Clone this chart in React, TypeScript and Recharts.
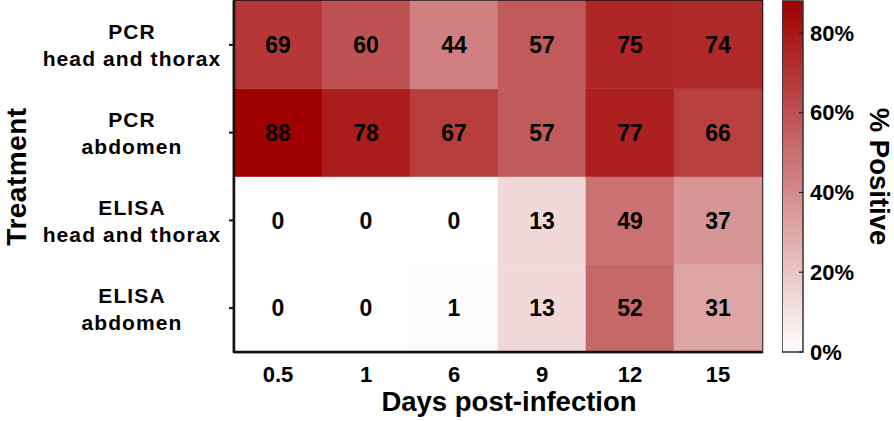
import React from "react";
import {
  BarChart,
  Bar,
  XAxis,
  YAxis,
  Cell,
  LabelList,
  Label,
  ReferenceArea,
} from "recharts";

/* ---------- data ---------- */
const days = ["0.5", "1", "6", "9", "12", "15"];
// rows from bottom to top
const rowKeys = ["elisaAb", "elisaHT", "pcrAb", "pcrHT"];
const rowLabels = [
  ["ELISA", "abdomen"],
  ["ELISA", "head and thorax"],
  ["PCR", "abdomen"],
  ["PCR", "head and thorax"],
];
const pcrHT = [69, 60, 44, 57, 75, 74];
const pcrAb = [88, 78, 67, 57, 77, 66];
const elisaHT = [0, 0, 0, 13, 49, 37];
const elisaAb = [0, 0, 1, 13, 52, 31];
const scaleMax = 88;
const scaleTicks = [0, 20, 40, 60, 80];

const chartData = days.map((d, i) => ({
  day: d,
  pcrHT: pcrHT[i],
  pcrAb: pcrAb[i],
  elisaHT: elisaHT[i],
  elisaAb: elisaAb[i],
}));

const FONT = "'Liberation Sans', Arial, sans-serif";
const HI = [160, 0, 0];

function colorFor(v: number): string {
  const t = Math.max(0, Math.min(1, v / scaleMax));
  const c = [0, 1, 2].map((k) => Math.round(255 + (HI[k] - 255) * t));
  return `rgb(${c[0]},${c[1]},${c[2]})`;
}

/* ---------- ticks ---------- */
const RowTick = (props: any) => {
  const { x, y, payload } = props;
  const idx = Math.floor(payload.value);
  const lines = rowLabels[idx] || ["", ""];
  return (
    <text
      x={x - 95}
      y={y}
      textAnchor="middle"
      fontFamily={FONT}
      fontWeight="bold"
      fontSize={21}
      letterSpacing={1.1}
      fill="#000"
    >
      <tspan x={x - 95} dy={-13} dominantBaseline="central">
        {lines[0]}
      </tspan>
      <tspan x={x - 95} dy={27} dominantBaseline="central">
        {lines[1]}
      </tspan>
    </text>
  );
};

export default function App() {
  React.useEffect(() => {
    document.body.style.margin = "0";
  }, []);

  return (
    <div
      style={{
        position: "absolute",
        left: 0,
        top: 0,
        width: 894,
        height: 421,
        background: "#fff",
        fontFamily: FONT,
      }}
    >
      {/* heatmap */}
      <div style={{ position: "absolute", left: 0, top: 0 }}>
        <BarChart
          width={780}
          height={421}
          data={chartData}
          margin={{ top: 1, right: 18, bottom: 8, left: 0 }}
          barCategoryGap={0}
          barGap={0}
        >
          <XAxis
            dataKey="day"
            height={61}
            axisLine={{ stroke: "#111", strokeWidth: 2.5 }}
            tickLine={false}
            tickMargin={8}
            tick={{ fill: "#000", fontSize: 22, fontWeight: "bold", fontFamily: FONT }}
          >
            <Label
              value="Days post-infection"
              position="insideBottom"
              offset={2}
              dx={11}
              style={{ fill: "#000", fontSize: 27.5, fontWeight: "bold", fontFamily: FONT }}
            />
          </XAxis>
          <YAxis
            type="number"
            domain={[0, 4]}
            ticks={[0.5, 1.5, 2.5, 3.5]}
            width={234}
            axisLine={{ stroke: "#111", strokeWidth: 2.5 }}
            tickLine={{ stroke: "#111", strokeWidth: 2 }}
            tickSize={5}
            tick={<RowTick />}
          >
            <Label
              value="Treatment"
              angle={-90}
              position="insideLeft"
              offset={16}
              style={{
                fill: "#000",
                fontSize: 28,
                letterSpacing: 0.5,
                fontWeight: "bold",
                fontFamily: FONT,
                textAnchor: "middle",
              }}
            />
          </YAxis>
          {rowKeys.map((k) => (
            <Bar key={k} dataKey={() => 1} stackId="a" isAnimationActive={false}>
              {chartData.map((d: any, i) => (
                <Cell key={i} fill={colorFor(d[k])} stroke={colorFor(d[k])} strokeWidth={0.6} />
              ))}
              <LabelList
                dataKey={k}
                position="center"
                style={{ fill: "#000", fontSize: 23, fontWeight: "bold", fontFamily: FONT }}
              />
            </Bar>
          ))}
          <ReferenceArea
            x1={days[0]}
            x2={days[days.length - 1]}
            y1={0}
            y2={4}
            fill="none"
            fillOpacity={0}
            stroke="#111"
            strokeWidth={2.5}
            ifOverflow="visible"
          />
        </BarChart>
      </div>

      {/* colour scale */}
      <div style={{ position: "absolute", left: 782, top: 0 }}>
        <BarChart
          width={112}
          height={421}
          data={[{ name: "scale", max: scaleMax }]}
          margin={{ top: 1, right: 0, bottom: 69, left: 0 }}
          barCategoryGap={0}
        >
          <defs>
            <linearGradient id="scaleGrad" x1="0" y1="0" x2="0" y2="1">
              <stop offset="0%" stopColor={colorFor(scaleMax)} />
              <stop offset="100%" stopColor="#fff" />
            </linearGradient>
          </defs>
          <XAxis dataKey="name" hide />
          <YAxis
            orientation="right"
            type="number"
            domain={[0, scaleMax]}
            ticks={scaleTicks}
            width={91}
            axisLine={false}
            tickLine={{ stroke: "#222", strokeWidth: 1.2 }}
            tickSize={-4}
            tickMargin={11}
            tickFormatter={(v) => `${v}%`}
            tick={{ fill: "#000", fontSize: 22, fontWeight: "bold", fontFamily: FONT }}
          >
            <Label
              value="% Positive"
              angle={90}
              position="insideRight"
              offset={14}
              style={{ fill: "#000", fontSize: 27.5, fontWeight: "bold", fontFamily: FONT, textAnchor: "middle" }}
            />
          </YAxis>
          <Bar dataKey="max" fill="url(#scaleGrad)" stroke="#333" strokeWidth={1.5} isAnimationActive={false} />
        </BarChart>
      </div>
    </div>
  );
}
